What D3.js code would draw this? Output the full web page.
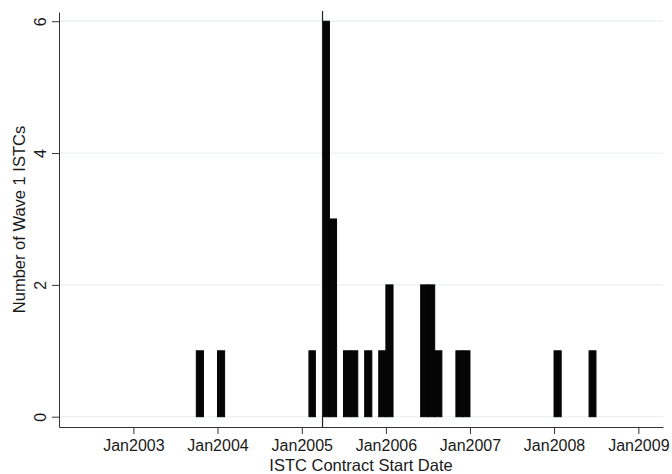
<!DOCTYPE html>
<html>
<head>
<meta charset="utf-8">
<script src="https://cdn.jsdelivr.net/npm/d3@7"></script>
<style>
  html, body { margin: 0; padding: 0; background: #fff; }
  svg { display: block; }
  text { font-family: "Liberation Sans", Arial, Helvetica, sans-serif; fill: #1a1a1a; }
</style>
</head>
<body>
<svg id="chart" width="672" height="474"></svg>
<script>
// ---- Data (monthly bins of contract start dates) ----
const binMonths = ["2003-10", "2004-01", "2005-02", "2005-04", "2005-05", "2005-07", "2005-08",
                   "2005-10", "2005-12", "2006-01", "2006-06", "2006-07", "2006-08", "2006-11",
                   "2006-12", "2008-01", "2008-06"];
const binCounts = [1, 1, 1, 6, 3, 1, 1, 1, 1, 2, 2, 2, 1, 1, 1, 1, 1];
const xTickDates = ["2003-01", "2004-01", "2005-01", "2006-01", "2007-01", "2008-01", "2009-01"];
const yTickValues = [0, 2, 4, 6];
const refLineDate = "2005-04";
const xTitle = "ISTC Contract Start Date";
const yTitle = "Number of Wave 1 ISTCs";

// ---- Layout ----
const svg = d3.select("#chart");
const pLeft = 59, pRight = 663, pTop = 12, pBottom = 427;
const parseM = d3.timeParse("%Y-%m");

const x = d3.scaleTime()
  .domain([new Date(2002, 1, 12), new Date(2009, 3, 18)])
  .range([pLeft, pRight]);
const y = d3.scaleLinear()
  .domain([-0.156, 6.14])
  .range([pBottom, pTop]);

// gridlines
svg.append("g").selectAll("line").data(yTickValues).join("line")
  .attr("x1", pLeft).attr("x2", pRight)
  .attr("y1", d => y(d)).attr("y2", d => y(d))
  .attr("stroke", "#eaf2f3").attr("stroke-width", 1.3);

// bars
const bars = binMonths.map((m, i) => {
  const s = parseM(m);
  return { start: s, end: d3.timeMonth.offset(s, 1), count: binCounts[i] };
});
svg.append("g").selectAll("rect").data(bars).join("rect")
  .attr("x", d => x(d.start))
  .attr("width", d => x(d.end) - x(d.start))
  .attr("y", d => y(d.count))
  .attr("height", d => y(0) - y(d.count))
  .attr("fill", "#050505")
  .attr("stroke", "#050505")
  .attr("stroke-width", 1);

// reference line
const rx = x(parseM(refLineDate));
svg.append("line")
  .attr("x1", rx).attr("x2", rx)
  .attr("y1", pTop - 1).attr("y2", pBottom)
  .attr("stroke", "#222").attr("stroke-width", 1.2);

// x axis
const xAxis = svg.append("g")
  .attr("transform", `translate(0,${pBottom})`)
  .call(d3.axisBottom(x)
    .tickValues(xTickDates.map(parseM))
    .tickFormat(d3.timeFormat("%b%Y"))
    .tickSize(7).tickSizeOuter(0));
xAxis.select(".domain").attr("stroke", "#333");
xAxis.selectAll(".tick line").attr("stroke", "#333");
xAxis.selectAll(".tick text")
  .attr("y", 13)
  .style("font-size", "16px")
  .attr("fill", "#1a1a1a");

// y axis
const yAxis = svg.append("g")
  .attr("transform", `translate(${pLeft},0)`)
  .call(d3.axisLeft(y)
    .tickValues(yTickValues)
    .tickFormat(d3.format("d"))
    .tickSize(7).tickSizeOuter(0));
yAxis.select(".domain").attr("stroke", "#333");
yAxis.selectAll(".tick line").attr("stroke", "#333");
yAxis.selectAll(".tick text")
  .attr("transform", "rotate(-90)")
  .attr("x", 0).attr("y", -13).attr("dy", 0)
  .attr("text-anchor", "middle")
  .style("font-size", "16px")
  .attr("fill", "#1a1a1a");

// titles
svg.append("text")
  .attr("x", (pLeft + pRight) / 2).attr("y", 471)
  .attr("text-anchor", "middle")
  .style("font-size", "16.5px")
  .text(xTitle);
svg.append("text")
  .attr("transform", `translate(25,${(pTop + pBottom) / 2}) rotate(-90)`)
  .attr("text-anchor", "middle")
  .style("font-size", "16.5px")
  .text(yTitle);
</script>
</body>
</html>
